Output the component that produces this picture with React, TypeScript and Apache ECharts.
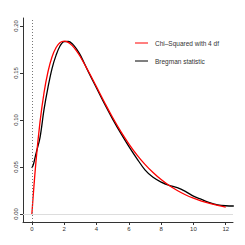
import React, { useEffect, useRef } from "react";
import * as echarts from "echarts";

const xTicks = [0, 2, 4, 6, 8, 10, 12];
const yTicks = [0, 0.05, 0.1, 0.15, 0.2];

const redX = [0, 0.25, 0.5, 0.75, 1, 1.25, 1.5, 1.75, 2, 2.25, 2.5, 2.75, 3, 3.5, 4, 4.5, 5, 5.5, 6, 6.5, 7, 7.5, 8, 8.5, 9, 9.5, 10, 10.5, 11, 11.5, 12];
const redY = [0, 0.0552, 0.0974, 0.1289, 0.1516, 0.1673, 0.1771, 0.1824, 0.1839, 0.1826, 0.1791, 0.1738, 0.1673, 0.1518, 0.1353, 0.1186, 0.1026, 0.0879, 0.0747, 0.063, 0.0528, 0.0441, 0.0366, 0.0303, 0.025, 0.0205, 0.0168, 0.0137, 0.0112, 0.0091, 0.0074];

const blackX = [0, 0.1, 0.25, 0.5, 0.75, 1, 1.25, 1.5, 1.75, 2, 2.25, 2.5, 2.75, 3, 3.5, 4, 4.5, 5, 5.5, 6, 6.5, 7, 7.5, 8, 8.5, 9, 9.5, 10, 10.5, 11, 11.5, 12, 12.5];
const blackY = [0.049, 0.053, 0.064, 0.081, 0.111, 0.135, 0.155, 0.169, 0.179, 0.1834, 0.1835, 0.1812, 0.176, 0.169, 0.151, 0.134, 0.117, 0.101, 0.086, 0.072, 0.059, 0.047, 0.039, 0.034, 0.0305, 0.028, 0.024, 0.019, 0.0155, 0.012, 0.0098, 0.0088, 0.0085];

const legendNames = ["Chi\u2013Squared with 4 df", "Bregman statistic"];
const legendColors = ["#ff0000", "#000000"];

export default function App() {
  const ref = useRef<HTMLDivElement>(null);
  useEffect(() => {
    if (!ref.current) return;
    const chart = echarts.init(ref.current, null, { renderer: "svg" });
    const font = "Liberation Sans, Arial, sans-serif";
    chart.setOption({
      animation: false,
      grid: { left: 23, top: 18, right: 12, bottom: 23 },
      xAxis: {
        type: "value",
        min: -0.55,
        max: 12.45,
        splitLine: { show: false },
        axisLine: { show: true, onZero: false, lineStyle: { color: "#333", width: 1 } },
        axisTick: { show: true, customValues: xTicks, length: 3, lineStyle: { color: "#333" } },
        axisLabel: {
          customValues: xTicks,
          fontSize: 6,
          color: "#333",
          fontFamily: font,
          margin: 4,
          formatter: (v: number) => String(v),
        },
      },
      yAxis: {
        type: "value",
        min: -0.0085,
        max: 0.2085,
        splitLine: { show: false },
        axisLine: { show: true, onZero: false, lineStyle: { color: "#333", width: 1 } },
        axisTick: { show: true, customValues: yTicks, length: 3, lineStyle: { color: "#333" } },
        axisLabel: {
          customValues: yTicks,
          fontSize: 6,
          color: "#333",
          fontFamily: font,
          rotate: 90,
          margin: 4,
          formatter: (v: number) => v.toFixed(2),
        },
      },
      series: [
        {
          type: "line",
          name: legendNames[1],
          data: blackX.map((x, i) => [x, blackY[i]]),
          smooth: 0.35,
          showSymbol: false,
          lineStyle: { color: legendColors[1], width: 1.3 },
          z: 3,
          markLine: {
            silent: true,
            symbol: "none",
            label: { show: false },
            data: [
              { xAxis: 0, lineStyle: { color: "#777", type: [1, 2], width: 1 } },
              { yAxis: 0, lineStyle: { color: "#ddd", type: "solid", width: 1 } },
            ],
          },
        },
        {
          type: "line",
          name: legendNames[0],
          data: redX.map((x, i) => [x, redY[i]]),
          smooth: 0.4,
          showSymbol: false,
          lineStyle: { color: legendColors[0], width: 1.3 },
          z: 4,
        },
      ],
      graphic: legendNames.flatMap((name, i) => [
        {
          type: "line",
          shape: { x1: 135, y1: 43 + i * 18, x2: 148, y2: 43 + i * 18 },
          style: { stroke: legendColors[i], lineWidth: 1 },
        },
        {
          type: "text",
          x: 155,
          y: 43 + i * 18,
          style: {
            text: name,
            fontSize: 6.5,
            fontFamily: font,
            fill: "#333",
            textVerticalAlign: "middle",
          },
        },
      ]),
    });
    return () => chart.dispose();
  }, []);
  return <div ref={ref} style={{ width: 245, height: 245, position: "absolute", left: 0, top: 0 }} />;
}
